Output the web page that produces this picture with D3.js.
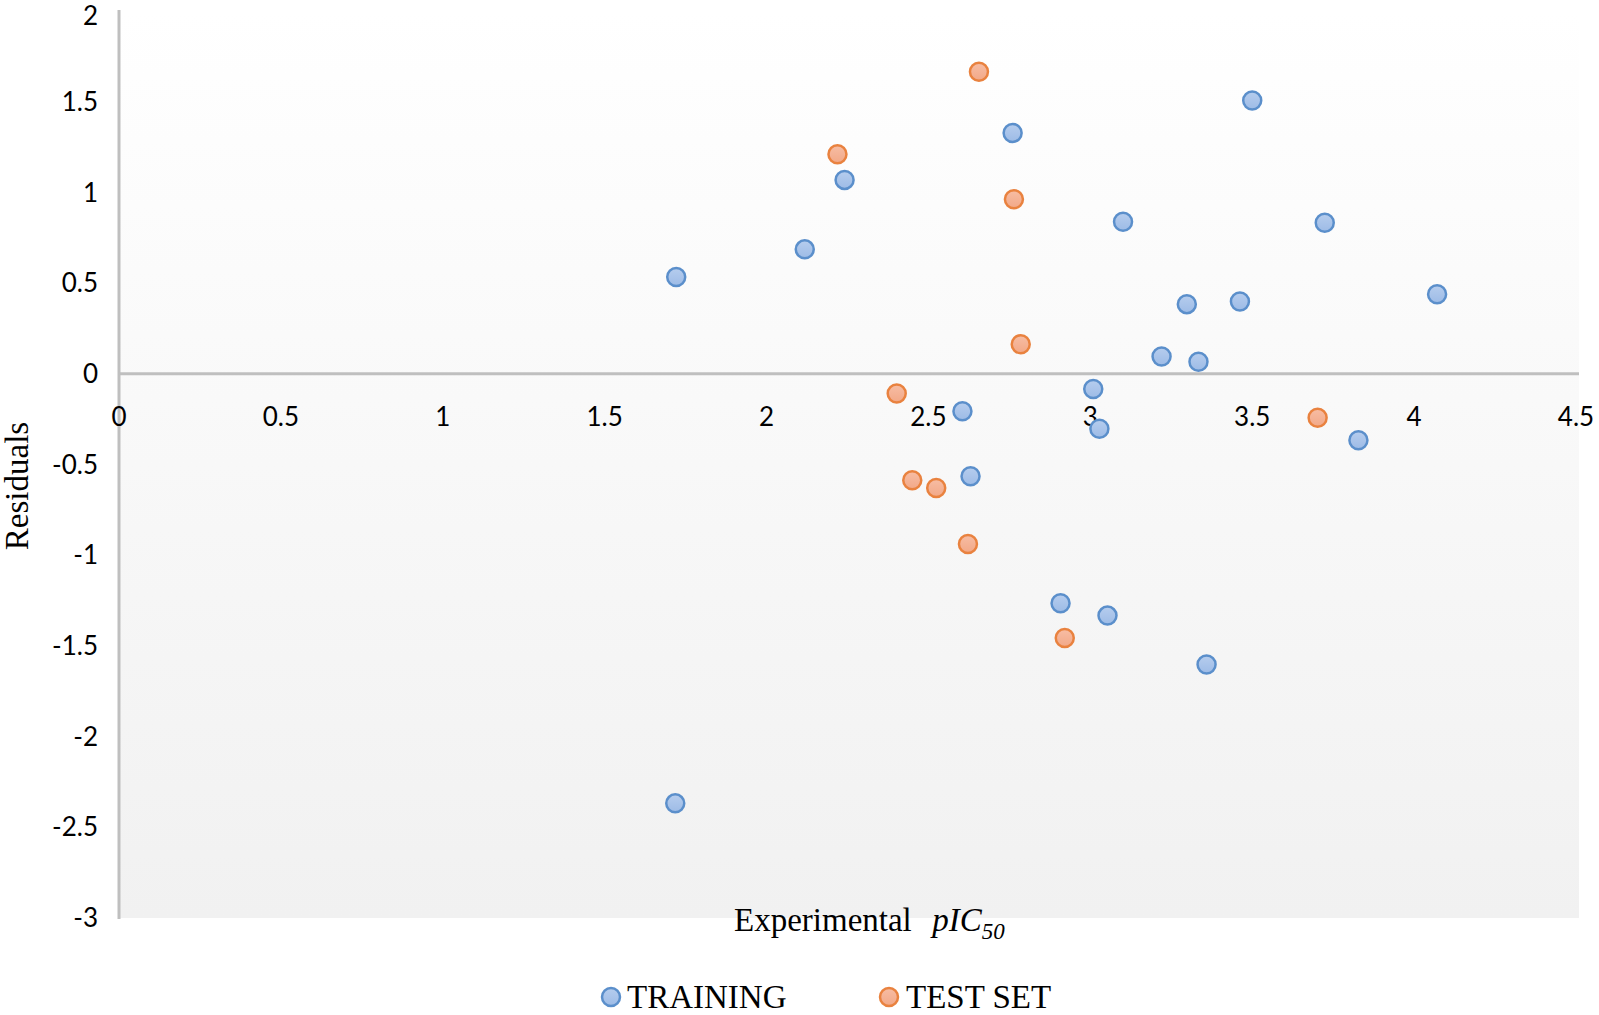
<!DOCTYPE html>
<html>
<head>
<meta charset="utf-8">
<script src="https://cdn.jsdelivr.net/npm/d3@7"></script>
<style>
  body { margin: 0; background: #fff; }
  svg { display: block; }
</style>
</head>
<body>
<div id="chart"></div>
<script>
// data
const trainX = [1.721, 2.118, 2.241, 2.760, 3.500, 3.101, 3.724, 4.071, 3.298, 3.462, 3.220,
                3.334, 3.009, 2.605, 3.028, 3.828, 2.630, 2.908, 3.053, 3.359, 1.718];
const trainY = [0.534, 0.686, 1.069, 1.328, 1.507, 0.838, 0.833, 0.439, 0.384, 0.399, 0.095,
                0.066, -0.084, -0.206, -0.303, -0.366, -0.565, -1.265, -1.333, -1.603, -2.368];

const testX = [2.656, 2.219, 2.764, 2.785, 2.402, 3.702, 2.450, 2.524, 2.622, 2.921];
const testY = [1.665, 1.210, 0.962, 0.163, -0.109, -0.242, -0.587, -0.629, -0.938, -1.457];

const xTicks = [0, 0.5, 1, 1.5, 2, 2.5, 3, 3.5, 4, 4.5];
const yTicks = [2, 1.5, 1, 0.5, 0, -0.5, -1, -1.5, -2, -2.5, -3];

const seriesNames = ["TRAINING", "TEST SET"];

const W = 1599, H = 1015;
const plotLeft = 119, plotRight = 1576, plotTop = 11, plotBottom = 918;

const svg = d3.select("#chart").append("svg")
    .attr("width", W)
    .attr("height", H);

const x = d3.scaleLinear().domain([0, 4.5]).range([plotLeft, plotRight]);
const y = d3.scaleLinear().domain([-3, 2]).range([plotBottom, plotTop]);

const defs = svg.append("defs");

// plot area background
const bg = defs.append("linearGradient")
    .attr("id", "bg").attr("x1", 0).attr("y1", 0).attr("x2", 0).attr("y2", 1);
bg.append("stop").attr("offset", "0%").attr("stop-color", "#ffffff");
bg.append("stop").attr("offset", "100%").attr("stop-color", "#f1f1f1");

// marker fills
const blueFill = defs.append("linearGradient")
    .attr("id", "blueFill").attr("x1", 0).attr("y1", 0).attr("x2", 0).attr("y2", 1);
blueFill.append("stop").attr("offset", "0%").attr("stop-color", "#b6cdee");
blueFill.append("stop").attr("offset", "100%").attr("stop-color", "#9dbbe6");

const orangeFill = defs.append("linearGradient")
    .attr("id", "orangeFill").attr("x1", 0).attr("y1", 0).attr("x2", 0).attr("y2", 1);
orangeFill.append("stop").attr("offset", "0%").attr("stop-color", "#f7bda4");
orangeFill.append("stop").attr("offset", "100%").attr("stop-color", "#f2a887");

svg.append("rect")
    .attr("x", plotLeft)
    .attr("y", plotTop)
    .attr("width", plotRight + 3 - plotLeft)
    .attr("height", plotBottom - plotTop)
    .attr("fill", "url(#bg)");

// axis lines
svg.append("line")
    .attr("x1", plotLeft).attr("x2", plotLeft)
    .attr("y1", plotTop - 1).attr("y2", plotBottom + 1)
    .attr("stroke", "#bfbfbf").attr("stroke-width", 3);

svg.append("line")
    .attr("x1", plotLeft).attr("x2", plotRight + 3)
    .attr("y1", y(0)).attr("y2", y(0))
    .attr("stroke", "#bfbfbf").attr("stroke-width", 3);

// tick labels
svg.append("g").selectAll("text")
    .data(yTicks)
    .enter()
    .append("text")
    .attr("x", 98)
    .attr("y", d => Math.max(y(d), 16))
    .attr("dy", "0.35em")
    .attr("text-anchor", "end")
    .style("font-family", "Lato, 'Open Sans', sans-serif")
    .style("font-size", "26px")
    .attr("fill", "#000")
    .text(d => d);

svg.append("g").selectAll("text")
    .data(xTicks)
    .enter()
    .append("text")
    .attr("x", d => x(d))
    .attr("y", y(0) + 52)
    .attr("text-anchor", "middle")
    .style("font-family", "Lato, 'Open Sans', sans-serif")
    .style("font-size", "26px")
    .attr("fill", "#000")
    .text(d => d);

// axis titles
svg.append("text")
    .attr("transform", "translate(28," + 486 + ") rotate(-90)")
    .attr("text-anchor", "middle")
    .style("font-family", "'Liberation Serif', 'Times New Roman', serif")
    .style("font-size", "33px")
    .text("Residuals");

const xTitle = svg.append("text")
    .attr("x", 734)
    .attr("y", 931)
    .style("font-family", "'Liberation Serif', 'Times New Roman', serif")
    .style("font-size", "33px")
    .attr("xml:space", "preserve");
xTitle.append("tspan").text("Experimental  ");
xTitle.append("tspan").attr("dx", 4).style("font-style", "italic").text("pIC");
xTitle.append("tspan").style("font-style", "italic").style("font-size", "23px")
    .attr("dy", 8).text("50");

// points
const train = trainX.map((v, i) => ({ x: v, y: trainY[i] }));
const test = testX.map((v, i) => ({ x: v, y: testY[i] }));

svg.append("g").selectAll("circle")
    .data(train)
    .enter()
    .append("circle")
    .attr("cx", d => x(d.x))
    .attr("cy", d => y(d.y))
    .attr("r", 9)
    .attr("fill", "url(#blueFill)")
    .attr("stroke", "#5b8fcb")
    .attr("stroke-width", 2.5);

svg.append("g").selectAll("circle")
    .data(test)
    .enter()
    .append("circle")
    .attr("cx", d => x(d.x))
    .attr("cy", d => y(d.y))
    .attr("r", 9)
    .attr("fill", "url(#orangeFill)")
    .attr("stroke", "#e9823f")
    .attr("stroke-width", 2.5);

// legend
const legendItems = [
  { name: seriesNames[0], cx: 611, tx: 627, fill: "url(#blueFill)", stroke: "#5b8fcb" },
  { name: seriesNames[1], cx: 889, tx: 906, fill: "url(#orangeFill)", stroke: "#e9823f" }
];

const legend = svg.append("g").selectAll("g")
    .data(legendItems)
    .enter()
    .append("g");

legend.append("circle")
    .attr("cx", d => d.cx)
    .attr("cy", 997)
    .attr("r", 9)
    .attr("fill", d => d.fill)
    .attr("stroke", d => d.stroke)
    .attr("stroke-width", 2.5);

legend.append("text")
    .attr("x", d => d.tx)
    .attr("y", 1008)
    .style("font-family", "'Liberation Serif', 'Times New Roman', serif")
    .style("font-size", "33px")
    .text(d => d.name);
</script>
</body>
</html>
